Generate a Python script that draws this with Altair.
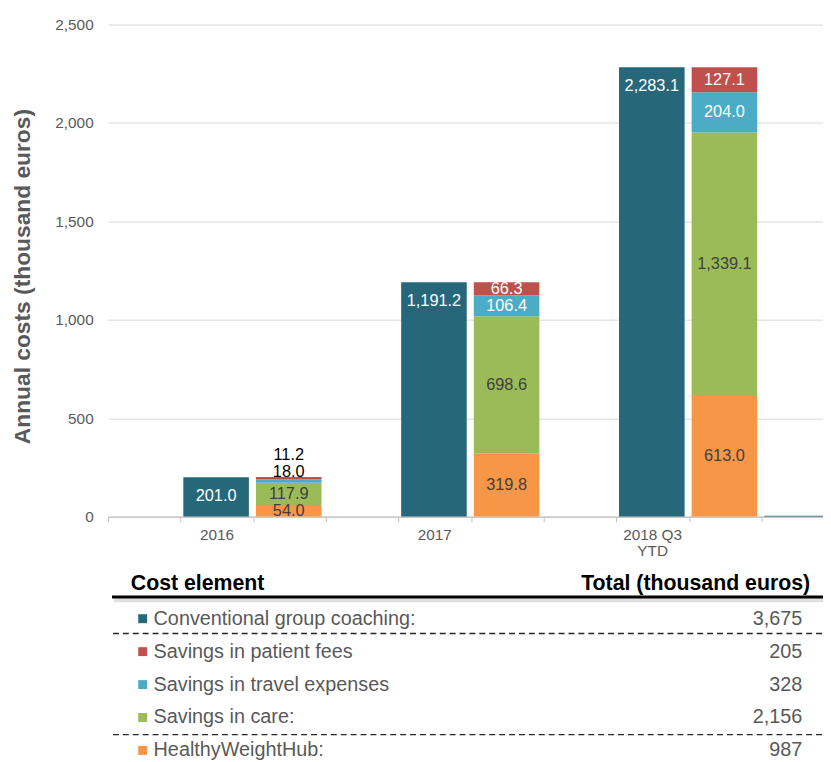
import altair as alt
import pandas as pd

# ---------------- data ----------------
categories = ["2016", "2017", "2018 Q3\nYTD"]
conventional = [201.0, 1191.2, 2283.1]
healthyweighthub = [54.0, 319.8, 613.0]
savings_care = [117.9, 698.6, 1339.1]
savings_travel = [18.0, 106.4, 204.0]
savings_fees = [11.2, 66.3, 127.1]
trailing_bar = [5.0]  # thin bar at the cropped right edge

cost_elements = ["Conventional group coaching:", "Savings in patient fees",
                 "Savings in travel expenses", "Savings in care:", "HealthyWeightHub:"]
element_series = ["Conventional group coaching", "Savings in patient fees",
                  "Savings in travel expenses", "Savings in care", "HealthyWeightHub"]
totals = [3675, 205, 328, 2156, 987]
header_left = "Cost element"
header_right = "Total (thousand euros)"
y_title = "Annual costs (thousand euros)"
y_ticks = [0, 500, 1000, 1500, 2000, 2500]

SERIES = ["Conventional group coaching", "HealthyWeightHub", "Savings in care",
          "Savings in travel expenses", "Savings in patient fees"]
COLORS = ["#26687A", "#F79646", "#9BBB59", "#4BACC6", "#C0504D"]

# ---------------- layout constants ----------------
W, H = 722, 497
B0, B1 = 0.037, 0.94
FONT = "Liberation Sans"
GREY = "#595959"
ROW_Y0, ROW_STEP = 600, 33.25

rows = []
xl = []
stack_parts = [("HealthyWeightHub", healthyweighthub), ("Savings in care", savings_care),
               ("Savings in travel expenses", savings_travel), ("Savings in patient fees", savings_fees)]
for i, cat in enumerate(categories):
    ts, ss = 1 + 3 * i, 2 + 3 * i
    rows.append(dict(series=SERIES[0], x0=ts + B0, x1=ts + B1, xm=ts + (B0 + B1) / 2,
                     y0=0.0, y1=conventional[i], mid=conventional[i] / 2, value=conventional[i],
                     tone="top", total=conventional[i]))
    total = sum(v[i] for _, v in stack_parts)
    base = 0.0
    for s, vals in stack_parts:
        v = vals[i]
        if s in ("HealthyWeightHub", "Savings in care"):
            tone = "dark"
        elif v < 40:
            tone = "out_travel" if s == "Savings in travel expenses" else "out_fees"
        else:
            tone = "light"
        rows.append(dict(series=s, x0=ss + B0, x1=ss + B1, xm=ss + (B0 + B1) / 2,
                         y0=base, y1=base + v, mid=base + v / 2, value=v, tone=tone, total=total))
        base += v
    xl.append(dict(xm=ts + 0.5, label=cat))
for v in trailing_bar:
    rows.append(dict(series=SERIES[0], x0=9 + B0, x1=9 + B1, xm=9.5, y0=0.0, y1=v, mid=v / 2,
                     value=v, tone="none", total=v))

bars = pd.DataFrame(rows)
xlabels = pd.DataFrame(xl)
table = pd.DataFrame(dict(row=list(range(len(cost_elements))), name=cost_elements,
                          series=element_series, total=totals))

xscale = alt.Scale(domain=[0, W / 73.33], nice=False, zero=False)
yscale = alt.Scale(domain=[0, 2500], nice=False)
cscale = alt.Scale(domain=SERIES, range=COLORS)

XAX = alt.Axis(values=list(range(10)), labels=False, title=None, grid=False)
YAX = alt.Axis(values=y_ticks, format=",.0f", title=y_title, domain=False, ticks=False)

base = alt.Chart(bars)

bar_layer = base.mark_bar(clip=True).encode(
    x=alt.X("x0:Q", scale=xscale, axis=XAX),
    x2="x1:Q",
    y=alt.Y("y0:Q", scale=yscale, axis=YAX),
    y2="y1:Q",
    color=alt.Color("series:N", scale=cscale, legend=None),
)

def lab(tone, color, y, dy):
    return base.transform_filter(alt.datum.tone == tone).mark_text(
        font=FONT, fontSize=16.5, color=color, baseline="middle", align="center", dy=dy
    ).encode(
        x=alt.X("xm:Q", scale=xscale, axis=XAX),
        y=alt.Y(y, scale=yscale, axis=YAX),
        text=alt.Text("value:Q", format=",.1f"),
    )

labels = [
    lab("top", "white", "y1:Q", 19),
    lab("dark", "#404040", "mid:Q", 0),
    lab("light", "white", "mid:Q", 0),
    lab("out_travel", "black", "total:Q", -5),
    lab("out_fees", "black", "total:Q", -22),
]

xlab = alt.Chart(xlabels).mark_text(
    font=FONT, fontSize=15.5, color=GREY, baseline="top", align="center",
    lineBreak="\n", lineHeight=16
).encode(x=alt.X("xm:Q", scale=xscale, axis=XAX), y=alt.value(H + 12), text="label:N")

# ---------------- table below ----------------
one = alt.Data(values=[{}])
hdr_l = alt.Chart(one).mark_text(font=FONT, fontSize=21.5, fontWeight="bold", color="black",
                                 align="left", baseline="alphabetic").encode(
    x=alt.value(23), y=alt.value(571), text=alt.value(header_left))
hdr_r = alt.Chart(one).mark_text(font=FONT, fontSize=21.5, fontWeight="bold", color="black",
                                 align="right", baseline="alphabetic").encode(
    x=alt.value(709), y=alt.value(571), text=alt.value(header_right))
shadow = alt.Chart(one).mark_rule(color="black", opacity=0.12, strokeWidth=5).encode(
    x=alt.value(6), x2=alt.value(W + 10), y=alt.value(581))
thick = alt.Chart(one).mark_rule(color="black", strokeWidth=3).encode(
    x=alt.value(4), x2=alt.value(W + 10), y=alt.value(578))
dash1 = alt.Chart(one).mark_rule(color="#262626", strokeWidth=1.4, strokeDash=[6, 4]).encode(
    x=alt.value(5), x2=alt.value(W + 10), y=alt.value(615))
dash2 = alt.Chart(one).mark_rule(color="#262626", strokeWidth=1.4, strokeDash=[6, 4]).encode(
    x=alt.value(5), x2=alt.value(W + 10), y=alt.value(717))

table_layers = []
for r in range(len(cost_elements)):
    trow = alt.Chart(table).transform_filter(alt.datum.row == r)
    yv = alt.value(ROW_Y0 + ROW_STEP * r)
    table_layers.append(trow.mark_square(size=81, opacity=1, filled=True).encode(
        x=alt.value(35), y=yv, color=alt.Color("series:N", scale=cscale, legend=None)))
    table_layers.append(trow.mark_text(font=FONT, fontSize=20, color=GREY, align="left",
                                       baseline="middle").encode(
        x=alt.value(46), y=yv, text="name:N"))
    table_layers.append(trow.mark_text(font=FONT, fontSize=20, color=GREY, align="right",
                                       baseline="middle").encode(
        x=alt.value(701), y=yv, text=alt.Text("total:Q", format=",")))

chart = alt.layer(
    bar_layer, *labels, xlab, hdr_l, hdr_r, shadow, thick, dash1, dash2, *table_layers
).properties(
    width=W, height=H,
    autosize=alt.AutoSizeParams(type="none"),
    padding={"left": 101, "top": 13, "right": 0, "bottom": 245},
).configure(
    font=FONT
).configure_view(
    stroke=None, strokeWidth=0
).configure_axisY(
    grid=True, gridColor="#D9D9D9", gridWidth=1, domain=False, ticks=False,
    labelFontSize=15.5, labelColor=GREY, labelPadding=15, labelFont=FONT,
    titleFontSize=23, titleFontWeight="bold", titleColor=GREY, titleFont=FONT,
    titleX=-86, titleY=254, titleAngle=-90, titleAlign="center", titleBaseline="middle",
).configure_axisX(
    grid=False, labels=False, ticks=True, tickSize=5, tickColor="#BFBFBF",
    domain=True, domainColor="#BFBFBF", domainWidth=1.2,
)

chart.save("out.html", embed_options={"renderer": "svg", "actions": False})
